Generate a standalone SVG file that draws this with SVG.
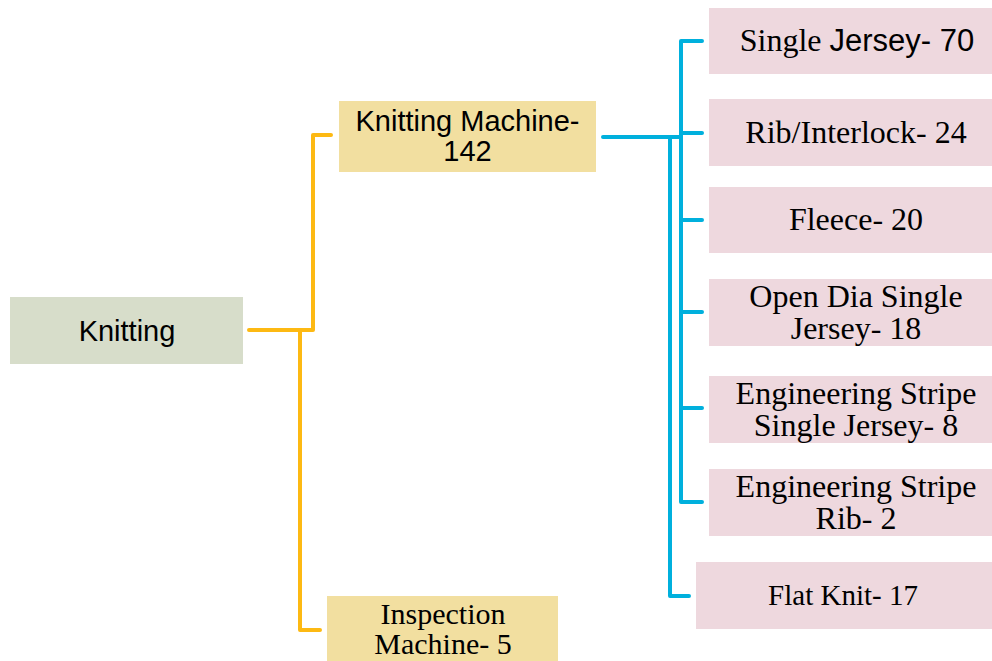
<svg xmlns="http://www.w3.org/2000/svg" width="992" height="661" viewBox="0 0 992 661">
<style>
.sans{font-family:"Liberation Sans",Arial,sans-serif;font-size:29px;fill:#000}
.serif{font-family:"Liberation Serif","Times New Roman",serif;font-size:32px;fill:#000}
.o{fill:none;stroke:#fdb913;stroke-width:4;stroke-linejoin:round;stroke-linecap:round}
.b{fill:none;stroke:#00b0dd;stroke-width:4;stroke-linejoin:round;stroke-linecap:round}
.pink{fill:#eed8de}
.tan{fill:#f2dfa0}
</style>
<rect width="992" height="661" fill="#fff"/>
<g id="connectors">
<path class="o" d="M249 330 H313 V135 H331"/>
<path class="o" d="M300 330 V630 H320"/>
<path class="b" d="M603 137 H681 V41 H702"/>
<path class="b" d="M681 133 H702"/>
<path class="b" d="M681 137 V502 H702"/>
<path class="b" d="M681 220 H702"/>
<path class="b" d="M681 312 H702"/>
<path class="b" d="M681 408 H702"/>
<path class="b" d="M670 137 V596 H689"/>
</g>
<g id="knitting">
<rect x="10" y="297" width="233" height="67" fill="#d7ddca"/>
<text class="sans" x="127" y="341" text-anchor="middle">Knitting</text>
</g>
<g id="knitting-machine">
<rect x="339" y="101" width="257" height="71" class="tan"/>
<text class="sans" x="467.5" y="131" text-anchor="middle">Knitting Machine-</text>
<text class="sans" x="467.5" y="161" text-anchor="middle">142</text>
</g>
<g id="inspection-machine">
<rect x="327" y="596" width="231" height="65" class="tan"/>
<text class="serif" style="font-size:30px" x="443" y="624" text-anchor="middle">Inspection</text>
<text class="serif" style="font-size:30px" x="443" y="654" text-anchor="middle">Machine- 5</text>
</g>
<g id="single-jersey">
<rect x="709" y="8" width="283" height="66" class="pink"/>
<text x="857" y="51" text-anchor="middle"><tspan class="serif">Single </tspan><tspan class="sans" style="font-size:31px">Jersey- 70</tspan></text>
</g>
<g id="rib-interlock">
<rect x="709" y="99" width="283" height="67" class="pink"/>
<text class="serif" x="856" y="143" text-anchor="middle">Rib/Interlock- 24</text>
</g>
<g id="fleece">
<rect x="709" y="187" width="283" height="66" class="pink"/>
<text class="serif" x="856" y="230" text-anchor="middle">Fleece- 20</text>
</g>
<g id="open-dia">
<rect x="709" y="279" width="283" height="67" class="pink"/>
<text class="serif" x="856" y="307" text-anchor="middle">Open Dia Single</text>
<text class="serif" x="856" y="339" text-anchor="middle">Jersey- 18</text>
</g>
<g id="eng-stripe-sj">
<rect x="709" y="376" width="283" height="67" class="pink"/>
<text class="serif" x="856" y="404" text-anchor="middle">Engineering Stripe</text>
<text class="serif" x="856" y="436" text-anchor="middle">Single Jersey- 8</text>
</g>
<g id="eng-stripe-rib">
<rect x="709" y="469" width="283" height="67" class="pink"/>
<text class="serif" x="856" y="497" text-anchor="middle">Engineering Stripe</text>
<text class="serif" x="856" y="529" text-anchor="middle">Rib- 2</text>
</g>
<g id="flat-knit">
<rect x="696" y="562" width="296" height="67" class="pink"/>
<text class="serif" style="font-size:29px" x="843" y="605" text-anchor="middle">Flat Knit- 17</text>
</g>
</svg>
